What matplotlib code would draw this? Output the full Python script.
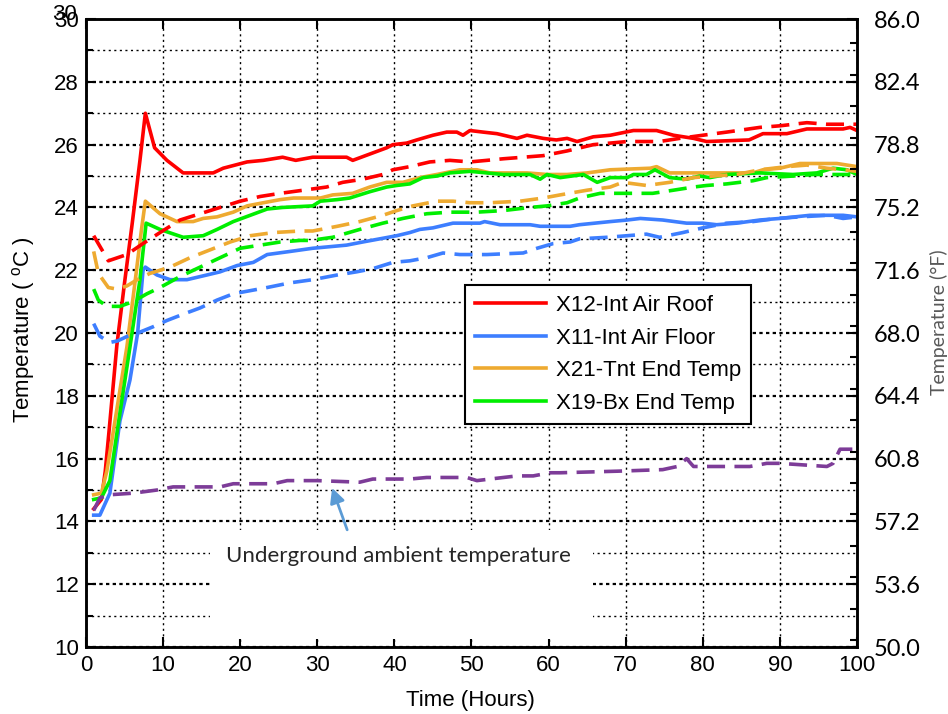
import numpy as np
import matplotlib
matplotlib.use('Agg')
import matplotlib.pyplot as plt
from matplotlib.patches import Rectangle
from matplotlib.ticker import MultipleLocator, FixedLocator

# ---- data (hours, deg C) ----
roof_h = [1, 2, 2.5, 3, 4, 5, 6, 7, 7.7, 8.9, 10.5, 12.6, 16.5, 17.8, 20.9, 23, 25.5, 27.2, 29.4, 31.2, 33, 33.8, 34.6,
          36.8, 39, 39.8, 41.6, 42.9, 45, 46.8, 48.1, 48.9, 49.8, 51.5, 53.3, 55.9, 57.2, 59.3, 61, 62.4, 63.7, 65.8,
          68, 71, 74, 76.2, 78.8, 80.5, 86, 87.8, 90.9, 93.5, 98.2, 99.1, 100]
roof_t = [14.4, 14.7, 15.6, 16.9, 19.6, 21.6, 23.5, 25.5, 27.0, 25.9, 25.5, 25.1, 25.1, 25.25, 25.45, 25.5, 25.6, 25.5,
          25.6, 25.6, 25.6, 25.6, 25.5, 25.7, 25.9, 26.0, 26.05, 26.15, 26.3, 26.4, 26.4, 26.3, 26.45, 26.4, 26.35, 26.2,
          26.3, 26.2, 26.15, 26.2, 26.1, 26.25, 26.3, 26.45, 26.45, 26.3, 26.2, 26.1, 26.15, 26.35, 26.35, 26.5, 26.5,
          26.55, 26.45]
roof2_h = [1, 2.9, 5.3, 7.4, 9.6, 12.2, 14.8, 17.4, 20, 22.6, 25.2, 28.2, 31.2, 33.3, 35.9, 38.5, 39.8, 42, 44.6, 47.2,
           49.8, 52, 54.1, 56.7, 59.3, 62.4, 65.8, 70.2, 74.4, 77, 80, 83.1, 87.4, 90, 93.5, 96.1, 100]
roof2_t = [23.1, 22.3, 22.5, 22.85, 23.2, 23.6, 23.8, 24.0, 24.2, 24.35, 24.45, 24.55, 24.65, 24.8, 24.9, 25.05, 25.2,
           25.3, 25.45, 25.5, 25.45, 25.5, 25.55, 25.6, 25.65, 25.8, 26.0, 26.1, 26.1, 26.2, 26.3, 26.4, 26.55, 26.6,
           26.7, 26.65, 26.65]

floor_h = [1, 1.8, 3.1, 4.4, 5.7, 6.7, 7.4, 7.7, 9.2, 10.9, 13.1, 15.7, 17.4, 19.6, 21.7, 23.5, 26.5, 29.4, 31.6, 33.8,
           35.9, 38.1, 40.3, 42, 43.3, 45, 47.6, 49.8, 51.1, 51.7, 53.7, 57.6, 58.9, 62.8, 64, 68, 70.2, 71.9, 74.8,
           77.9, 80, 81.8, 84.4, 87.4, 90, 93.9, 98.2, 100]
floor_t = [14.2, 14.2, 14.9, 17.2, 18.5, 20.0, 22.0, 22.1, 21.85, 21.7, 21.7, 21.85, 21.95, 22.15, 22.25, 22.5, 22.6,
           22.7, 22.75, 22.8, 22.9, 23.0, 23.1, 23.2, 23.3, 23.35, 23.5, 23.5, 23.5, 23.55, 23.45, 23.45, 23.4, 23.4,
           23.45, 23.55, 23.6, 23.65, 23.6, 23.5, 23.5, 23.45, 23.5, 23.6, 23.65, 23.75, 23.75, 23.7]
floor2_h = [1, 1.8, 3.1, 4.1, 5.4, 6.7, 8.7, 10.5, 12.6, 14.8, 17, 19.1, 21.3, 23.5, 26.5, 29.4, 32.6, 35.1, 37.2, 39.8,
            42, 44.2, 46.3, 48.5, 52, 56.7, 58.5, 60.6, 62.8, 64, 67.6, 70.2, 72.7, 74.4, 77.4, 80, 83.1, 86.5, 89.6,
            92.6, 96.1, 98.2, 100]
floor2_t = [20.3, 19.9, 19.7, 19.75, 19.9, 20.0, 20.2, 20.4, 20.6, 20.8, 21.05, 21.25, 21.35, 21.45, 21.6, 21.7, 21.85,
            21.95, 22.05, 22.25, 22.3, 22.4, 22.55, 22.5, 22.5, 22.55, 22.7, 22.85, 22.9, 23.0, 23.05, 23.1, 23.15,
            23.05, 23.2, 23.35, 23.5, 23.55, 23.65, 23.7, 23.75, 23.65, 23.7]

tnt_h = [1, 2, 2.7, 3.5, 5.3, 6.4, 7.2, 7.7, 9.6, 11.8, 13.9, 15.2, 17, 19.1, 20.9, 23, 25.2, 26.9, 30.4, 32, 34.6,
         36.8, 39, 41.1, 43.3, 45.5, 48.5, 50.7, 52.4, 57.2, 59.8, 62.4, 65, 68, 73.2, 74, 75.7, 80, 86.5, 87.8, 90,
         92.6, 97.4, 100]
tnt_t = [14.85, 14.9, 15.6, 16.8, 19.55, 21.7, 23.3, 24.2, 23.8, 23.55, 23.55, 23.65, 23.7, 23.85, 24.05, 24.15, 24.25,
         24.3, 24.3, 24.4, 24.45, 24.65, 24.8, 24.8, 24.95, 25.05, 25.2, 25.2, 25.1, 25.1, 25.05, 25.05, 25.1, 25.2,
         25.25, 25.3, 25.1, 25.1, 25.1, 25.2, 25.25, 25.4, 25.4, 25.3]
tnt2_h = [1, 1.6, 2.9, 4, 5.3, 7, 8.3, 10.9, 13.5, 16.1, 18.7, 21.3, 24.3, 27.8, 29.4, 32.6, 35.5, 38.5, 40.3, 42.4,
          45.5, 47.6, 49.8, 52.4, 56.3, 59.3, 61.5, 65, 68, 69.6, 72.7, 75.7, 78.8, 81.3, 84.4, 87.4, 90.9, 93.5, 96.1,
          98.2, 100]
tnt2_t = [22.6, 21.9, 21.45, 21.4, 21.5, 21.75, 21.9, 22.1, 22.4, 22.65, 22.9, 23.1, 23.2, 23.25, 23.25, 23.4, 23.55,
          23.75, 23.9, 24.05, 24.2, 24.2, 24.15, 24.15, 24.2, 24.3, 24.4, 24.55, 24.65, 24.8, 24.7, 24.8, 24.95, 25.0,
          25.05, 25.2, 25.3, 25.35, 25.25, 25.2, 25.15]

bx_h = [1, 2, 3.1, 4.4, 5.7, 7, 7.8, 9.6, 12.6, 15.2, 17, 19.1, 21.3, 23.5, 25.5, 29.4, 30.4, 32.6, 34.2, 36.8, 39,
        40.3, 42, 43.7, 45.5, 47.2, 49.8, 54.1, 57.6, 58.9, 59.8, 61.5, 64.5, 66.3, 68, 70.2, 71, 72.7, 73.8, 75.7,
        77.9, 79.6, 80.9, 83.1, 87.4, 91.7, 94.8, 96.9, 98.7, 100]
bx_t = [14.7, 14.75, 15.3, 17.45, 19.55, 21.7, 23.5, 23.3, 23.05, 23.1, 23.3, 23.55, 23.75, 23.95, 24.0, 24.05, 24.2,
        24.25, 24.3, 24.5, 24.65, 24.7, 24.75, 24.95, 25.0, 25.1, 25.15, 25.05, 25.05, 24.9, 25.05, 24.95, 25.05, 24.8,
        24.95, 24.95, 25.05, 25.05, 25.2, 24.95, 24.9, 25.0, 24.95, 25.05, 25.1, 25.05, 25.1, 25.25, 25.2, 25.05]
bx2_h = [1, 1.6, 2.7, 4.4, 6.1, 7.9, 9.6, 12.2, 14.8, 17.4, 20, 22.6, 25.2, 27.8, 29.1, 32, 35.5, 38.5, 41.1, 44.2,
         47.2, 50.7, 54.1, 57.6, 59.8, 62.4, 64, 66.7, 70.6, 73.5, 76.2, 78.8, 80.5, 83.1, 86.5, 88.3, 91.7, 94.3,
         97.4, 100]
bx2_t = [21.4, 21.05, 20.85, 20.85, 21.0, 21.25, 21.45, 21.8, 22.1, 22.4, 22.7, 22.8, 22.9, 22.95, 22.95, 23.05, 23.3,
         23.5, 23.65, 23.8, 23.85, 23.85, 23.9, 24.0, 24.05, 24.15, 24.3, 24.45, 24.45, 24.45, 24.55, 24.65, 24.7,
         24.75, 24.85, 24.95, 25.0, 25.05, 25.05, 25.05]

amb_h = [1, 1.8, 3.1, 6.1, 9.2, 11.3, 14.8, 17.4, 19.1, 24.3, 26.1, 30, 35.5, 37.2, 42, 44.2, 49.4, 50.7, 52.4, 55.9,
         58, 60.2, 61.5, 68.9, 74.8, 76.7, 77.9, 78.8, 86.1, 88.3, 90, 96.1, 96.9, 97.8, 100]
amb_t = [14.35, 14.75, 14.85, 14.9, 15.0, 15.1, 15.1, 15.1, 15.2, 15.2, 15.3, 15.3, 15.25, 15.35, 15.35, 15.4, 15.4,
         15.3, 15.35, 15.45, 15.45, 15.55, 15.55, 15.6, 15.65, 15.75, 16.0, 15.75, 15.75, 15.85, 15.85, 15.75, 15.85,
         16.3, 16.3]

labels = ['X12-Int Air Roof', 'X11-Int Air Floor', 'X21-Tnt End Temp', 'X19-Bx End Temp']
c_roof, c_floor, c_tnt, c_bx, c_amb = '#FF0000', '#3D7EFF', '#EEAA30', '#00EE00', '#7D3C98'

arial = 'Liberation Sans'
calib = 'Lato'

fig = plt.figure(figsize=(9.48, 7.14), dpi=100)
ax = fig.add_axes([0.0907, 0.0938, 0.8133, 0.8795])
ax.set_axisbelow(True)

lw = 2.6
dash = (5, 2.6)
ax.plot(roof_h, roof_t, color=c_roof, lw=lw, label=labels[0])
ax.plot(floor_h, floor_t, color=c_floor, lw=lw, label=labels[1])
ax.plot(tnt_h, tnt_t, color=c_tnt, lw=lw, label=labels[2])
ax.plot(bx_h, bx_t, color=c_bx, lw=lw, label=labels[3])
ax.plot(roof2_h, roof2_t, color=c_roof, lw=lw, dashes=dash)
ax.plot(floor2_h, floor2_t, color=c_floor, lw=lw, dashes=dash)
ax.plot(tnt2_h, tnt2_t, color=c_tnt, lw=lw, dashes=dash)
ax.plot(bx2_h, bx2_t, color=c_bx, lw=lw, dashes=dash)
ax.plot(amb_h, amb_t, color=c_amb, lw=lw, dashes=dash)

ax.set_xlim(0, 100)
ax.set_ylim(10, 30)
ax.xaxis.set_major_locator(MultipleLocator(10))
ax.yaxis.set_major_locator(MultipleLocator(2))
ax.yaxis.set_minor_locator(MultipleLocator(1))
ax.grid(True, axis='x', which='major', color='k', ls=(0, (1.5, 2.5)), lw=1.0)
ax.grid(True, axis='y', which='major', color='k', ls=(0, (1.5, 1.5)), lw=1.6)
ax.grid(True, axis='y', which='minor', color='k', ls=(0, (1.5, 2.5)), lw=1.0)
ax.tick_params(which='both', direction='in', top=True, right=False, width=1.5)
ax.tick_params(which='major', length=7)
ax.tick_params(which='minor', length=5)
ax.tick_params(axis='both', labelsize=16)
ax.tick_params(axis='x', pad=6)
ax.tick_params(axis='y', pad=5)
for lab in ax.get_xticklabels() + ax.get_yticklabels():
    lab.set_fontfamily(arial)
for sp in ax.spines.values():
    sp.set_linewidth(1.8)

# the top label is drawn twice in the source figure
ax.text(-0.012, 30.13, '30', transform=ax.get_yaxis_transform(), ha='right', va='center',
        fontsize=16, family=arial)

# white patch behind the annotation text
ax.add_patch(Rectangle((16.1, 10.27), 49.7, 3.46, facecolor='white', edgecolor='none', zorder=1))
ax.text(40.5, 12.9, 'Underground ambient temperature', ha='center', va='center',
        fontsize=16, family=calib, color='#262626')
ax.annotate('', xy=(31.8, 15.15), xytext=(34.0, 13.65),
            arrowprops=dict(arrowstyle='-|>', color='#5B9BD5', lw=2, mutation_scale=22))

ax.set_xlabel('Time (Hours)', fontsize=16, family=arial)
ax.xaxis.set_label_coords(0.499, -0.069)
ax.set_ylabel('Temperature ( $\\mathregular{^{o}}$C )', fontsize=16, family=arial)
ax.yaxis.set_label_coords(-0.063, 0.505)

leg = ax.legend(loc='upper left', bbox_to_anchor=(0.4916, 0.5764), borderaxespad=0,
                prop={'family': arial, 'size': 16}, fancybox=False, framealpha=1, edgecolor='k',
                handlelength=3.2, handletextpad=0.45, labelspacing=0.52, borderpad=0.45)
leg.get_frame().set_linewidth(1.5)

ax2 = ax.twinx()
ax2.set_ylim(50, 86)
ax2.yaxis.set_major_locator(FixedLocator(np.arange(50, 86.01, 3.6)))
ax2.yaxis.set_minor_locator(MultipleLocator(1.8))
ax2.set_yticklabels(['%.1f' % v for v in np.arange(50, 86.01, 3.6)], fontsize=17, family=calib)
ax2.tick_params(which='both', direction='in', width=1.5)
ax2.tick_params(which='major', length=7, pad=12)
ax2.tick_params(which='minor', length=5)
for sp in ax2.spines.values():
    sp.set_linewidth(1.8)
ax2.set_ylabel('Temperature (\u00b0F)', fontsize=14, family=calib, color='#595959')
ax2.yaxis.set_label_coords(1.094, 0.517)

fig.savefig('out.png', dpi=100)
